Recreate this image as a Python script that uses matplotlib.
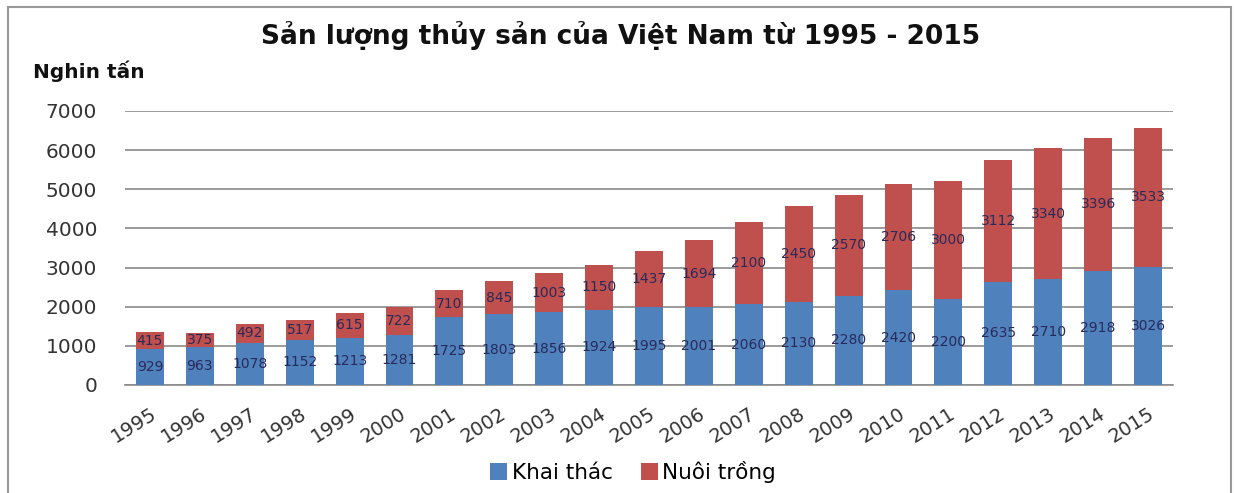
import numpy as np
import matplotlib
matplotlib.use('Agg')
import matplotlib.pyplot as plt
from matplotlib.lines import Line2D

years = ['1995', '1996', '1997', '1998', '1999', '2000', '2001', '2002', '2003', '2004',
         '2005', '2006', '2007', '2008', '2009', '2010', '2011', '2012', '2013', '2014', '2015']
khai_thac = [929, 963, 1078, 1152, 1213, 1281, 1725, 1803, 1856, 1924,
             1995, 2001, 2060, 2130, 2280, 2420, 2200, 2635, 2710, 2918, 3026]
nuoi_trong = [415, 375, 492, 517, 615, 722, 710, 845, 1003, 1150,
              1437, 1694, 2100, 2450, 2570, 2706, 3000, 3112, 3340, 3396, 3533]

blue = '#4F81BD'
red = '#C0504D'
label_color = '#2A2A5A'

plt.rcParams['font.family'] = ['DejaVu Sans']

fig = plt.figure(figsize=(12.34, 4.93), dpi=100)
ax = fig.add_axes([125 / 1234, 1 - 385 / 493, (1173 - 125) / 1234, (385 - 111) / 493])

x = np.arange(len(years))
kt = np.array(khai_thac)
nt = np.array(nuoi_trong)
w = 0.56
ax.bar(x, kt, width=w, color=blue, zorder=3, label='Khai thác')
ax.bar(x, nt, width=w, bottom=kt, color=red, zorder=3, label='Nuôi trồng')

for i in range(len(x)):
    ax.text(x[i], kt[i] / 2, str(kt[i]), ha='center', va='center',
            fontsize=10, color=label_color, zorder=4)
    ax.text(x[i], kt[i] + nt[i] / 2, str(nt[i]), ha='center', va='center',
            fontsize=10, color=label_color, zorder=4)

ax.set_xlim(-0.5, len(years) - 0.5)
ax.set_ylim(0, 7000)
ax.set_yticks(range(0, 7001, 1000))
ax.yaxis.grid(True, color='#8a8a8a', linewidth=1.2, zorder=0)
ax.set_axisbelow(True)
for s in ['top', 'right', 'left']:
    ax.spines[s].set_visible(False)
ax.spines['bottom'].set_color('#8a8a8a')
ax.spines['bottom'].set_linewidth(1.2)
ax.tick_params(axis='both', length=0)
ax.tick_params(axis='y', pad=20, labelsize=14.5, labelcolor='#333333')
ax.set_xticks(x)
ax.set_xticklabels(years, rotation=32, ha='right', va='top', rotation_mode='anchor',
                   fontsize=14, color='#333333')
ax.tick_params(axis='x', pad=14)

fig.text(0.503, 1 - 36 / 493, 'Sản lượng thủy sản của Việt Nam từ 1995 - 2015',
         ha='center', va='center', fontsize=19, fontweight='bold', color='#111111')
fig.text(33 / 1234, 1 - 71 / 493, 'Nghin tấn', ha='left', va='center',
         fontsize=14.5, fontweight='bold', color='#111111')

fig.legend(loc='center', bbox_to_anchor=(633 / 1234, 1 - 472 / 493), ncol=2,
           frameon=False, fontsize=15.5, handlelength=0.8, handleheight=0.8,
           handletextpad=0.2, columnspacing=1.3)

# khung viền quanh biểu đồ
fig.add_artist(Line2D([8 / 1234, 8 / 1234], [0, 1 - 7 / 493], transform=fig.transFigure,
                      color='#999999', linewidth=1.5))
fig.add_artist(Line2D([8 / 1234, 1231 / 1234], [1 - 7 / 493, 1 - 7 / 493],
                      transform=fig.transFigure, color='#999999', linewidth=1.5))
fig.add_artist(Line2D([1231 / 1234, 1231 / 1234], [0, 1 - 7 / 493], transform=fig.transFigure,
                      color='#999999', linewidth=1.5))

fig.savefig('out.png', dpi=100)
